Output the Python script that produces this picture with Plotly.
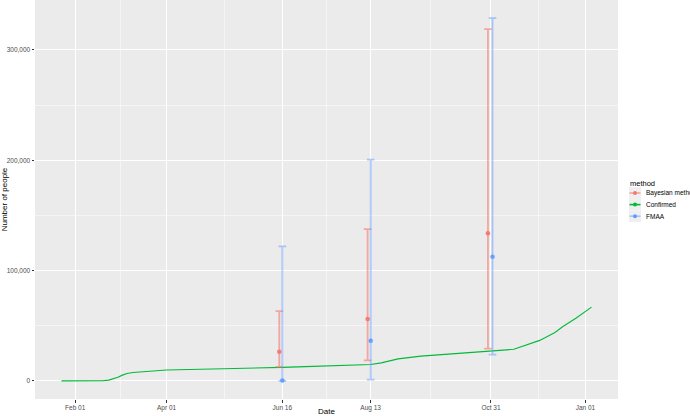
import plotly.graph_objects as go
import pandas as pd

# ---------------- data ----------------
confirmed_dates = ["2020-01-23", "2020-02-15", "2020-02-19", "2020-02-23", "2020-02-26",
                   "2020-02-29", "2020-03-03", "2020-03-06", "2020-03-10", "2020-03-20",
                   "2020-04-01", "2020-05-01", "2020-06-01", "2020-06-16", "2020-07-01",
                   "2020-08-01", "2020-08-13", "2020-08-20", "2020-08-31", "2020-09-15",
                   "2020-09-30", "2020-10-31", "2020-11-15", "2020-12-02", "2020-12-12",
                   "2020-12-17", "2020-12-26", "2021-01-05"]
confirmed_values = [0, 0, 150, 700, 1800,
                    3200, 5200, 6600, 7600, 8700,
                    9900, 10800, 11500, 12200, 12900,
                    14300, 14800, 16300, 19900, 22400,
                    23800, 26700, 28600, 36700, 43900,
                    49000, 57000, 66800]

bayes_dates = ["2020-06-14", "2020-08-11", "2020-10-29"]
bayes_mid = [26400, 56000, 133700]
bayes_low = [12700, 18600, 29200]
bayes_high = [63200, 137600, 318900]

fmaa_dates = ["2020-06-16", "2020-08-13", "2020-11-01"]
fmaa_mid = [300, 36400, 112600]
fmaa_low = [0, 1200, 23800]
fmaa_high = [122000, 200500, 328800]

x_tick_dates = ["2020-02-01", "2020-04-01", "2020-06-16", "2020-08-13", "2020-10-31", "2021-01-01"]
x_tick_labels = ["Feb 01", "Apr 01", "Jun 16", "Aug 13", "Oct 31", "Jan 01"]
y_ticks = [0, 100000, 200000, 300000]

methods = ["Bayesian method", "Confirmed", "FMAA"]
colors = {"Bayesian method": "#F8766D", "Confirmed": "#00BA38", "FMAA": "#619CFF"}
bar_colors = {"Bayesian method": "rgba(248,118,109,0.6)", "FMAA": "rgba(97,156,255,0.5)"}

# ---------------- scales ----------------
all_dates = pd.to_datetime(confirmed_dates + bayes_dates + fmaa_dates)
xmin, xmax = all_dates.min(), all_dates.max()
xpad = (xmax - xmin) * 0.05
x_range = [xmin - xpad, xmax + xpad]

all_y = confirmed_values + bayes_low + bayes_high + fmaa_low + fmaa_high
ymin, ymax = min(all_y), max(all_y)
ypad = (ymax - ymin) * 0.05
y_range = [ymin - ypad, ymax + ypad]

tick_dt = pd.to_datetime(x_tick_dates)
minor_x = [tick_dt[i] + (tick_dt[i + 1] - tick_dt[i]) / 2 for i in range(len(tick_dt) - 1)]
minor_y = [(y_ticks[i] + y_ticks[i + 1]) / 2 for i in range(len(y_ticks) - 1)]

# ---------------- figure ----------------
fig = go.Figure()

fig.add_trace(go.Scatter(
    x=confirmed_dates, y=confirmed_values, mode="lines",
    line=dict(color=colors["Confirmed"], width=1.1),
    showlegend=False, hoverinfo="skip"))

for name, d, mid, lo, hi in [("Bayesian method", bayes_dates, bayes_mid, bayes_low, bayes_high),
                             ("FMAA", fmaa_dates, fmaa_mid, fmaa_low, fmaa_high)]:
    fig.add_trace(go.Scatter(
        x=d, y=mid, mode="markers",
        marker=dict(color=colors[name], size=4.5, opacity=0.95),
        error_y=dict(type="data", symmetric=False,
                     array=[h - m for h, m in zip(hi, mid)],
                     arrayminus=[m - l for m, l in zip(mid, lo)],
                     color=bar_colors[name], thickness=1.8, width=3.8),
        showlegend=False))

# ---------------- manual legend (ggplot-like) ----------------
L, R, T, B = 35, 72, 0, 17
W, H = 690, 416
pw, ph = W - L - R, H - T - B


def px(xp):
    return (xp - L) / pw


def py(yp):
    return 1 - (yp - T) / ph


shapes = []
annotations = []
annotations.append(dict(x=px(628), y=py(183), xref="paper", yref="paper", text="method",
                        showarrow=False, xanchor="left", yanchor="middle",
                        font=dict(size=7.5, color="black")))
key_y = [193, 204.6, 216.2]
for m, ky in zip(methods, key_y):
    shapes.append(dict(type="rect", xref="paper", yref="paper",
                       x0=px(629), x1=px(641), y0=py(ky - 5.8), y1=py(ky + 5.8),
                       fillcolor="#EFEFEF", line=dict(width=0)))
    lc = bar_colors.get(m, colors[m])
    shapes.append(dict(type="line", xref="paper", yref="paper",
                       x0=px(629.5), x1=px(640.5), y0=py(ky), y1=py(ky),
                       line=dict(color=lc if m != "Confirmed" else colors[m], width=1.6)))
    shapes.append(dict(type="circle", xref="paper", yref="paper",
                       x0=px(633), x1=px(637), y0=py(ky - 2), y1=py(ky + 2),
                       fillcolor=colors[m], line=dict(width=0)))
    annotations.append(dict(x=px(643.5), y=py(ky), xref="paper", yref="paper", text=m,
                            showarrow=False, xanchor="left", yanchor="middle",
                            font=dict(size=6.5, color="black")))

fig.update_layout(
    width=W, height=H,
    margin=dict(l=L, r=R, t=T, b=B, pad=0),
    paper_bgcolor="white", plot_bgcolor="#EBEBEB",
    font=dict(family="Liberation Sans, Arial, sans-serif", color="black"),
    showlegend=False,
    shapes=shapes, annotations=annotations,
    xaxis=dict(
        type="date", range=x_range, automargin=False,
        tickmode="array", tickvals=x_tick_dates, ticktext=x_tick_labels,
        ticks="outside", ticklen=2.5, tickwidth=1, tickcolor="#333333",
        tickfont=dict(size=6.5, color="#4D4D4D"),
        showgrid=True, gridcolor="white", gridwidth=1,
        minor=dict(tickvals=minor_x, showgrid=True, gridcolor="white", gridwidth=0.5, ticks=""),
        zeroline=False, showline=False,
        title=dict(text="Date", font=dict(size=8), standoff=2),
    ),
    yaxis=dict(
        range=y_range, automargin=False,
        tickmode="array", tickvals=y_ticks, tickformat=",",
        ticks="outside", ticklen=2.5, tickwidth=1, tickcolor="#333333",
        tickfont=dict(size=6.5, color="#4D4D4D"),
        showgrid=True, gridcolor="white", gridwidth=1,
        minor=dict(tickvals=minor_y, showgrid=True, gridcolor="white", gridwidth=0.5, ticks=""),
        zeroline=False, showline=False,
        title=dict(text="Number of people", font=dict(size=8), standoff=2),
    ),
)

fig.write_html("out.html",
               config={"displayModeBar": False, "staticPlot": True},
               post_script="document.body.style.margin='0';document.body.style.overflow='hidden';")
